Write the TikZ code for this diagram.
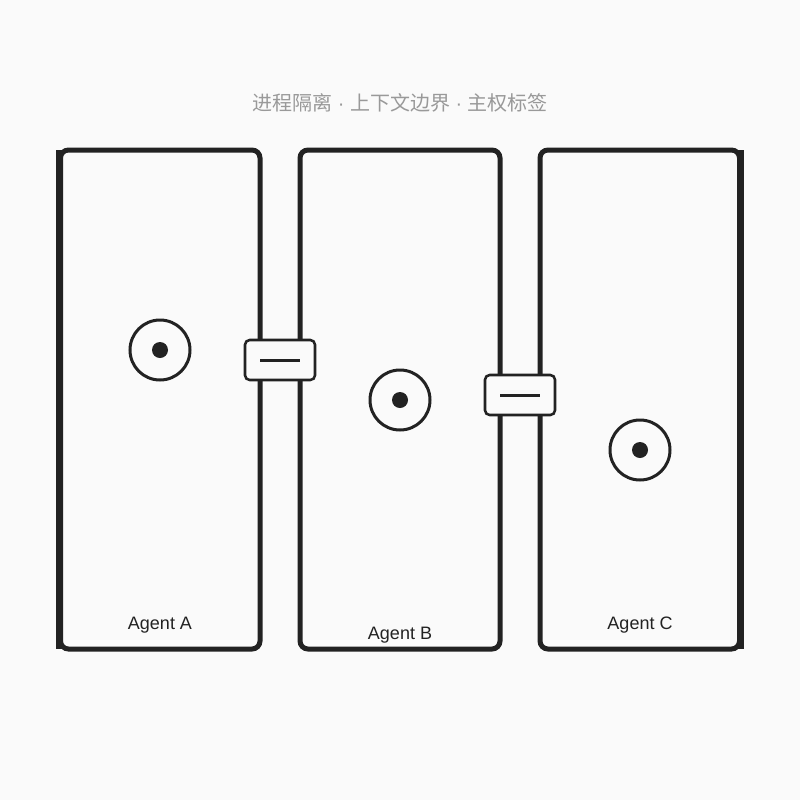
\documentclass[tikz,border=0pt]{standalone}
\usepackage{fontspec}
\setmainfont{Liberation Sans}
\newfontfamily\cjk{Noto Sans CJK SC}
\newfontfamily\latinsans{Liberation Sans}
\definecolor{ink}{HTML}{222222}
\definecolor{bg}{HTML}{FAFAFA}
\definecolor{titlegray}{HTML}{999999}
\newcommand{\tdot}{{\latinsans\ ·\ }}
\begin{document}
\begin{tikzpicture}[x=0.75pt,y=-0.75pt,
  agentbox/.style={draw=ink,line width=3.75pt,rounded corners=6pt,fill=bg},
  edgebar/.style={draw=ink,line width=4.5pt},
  portbox/.style={draw=ink,fill=bg,line width=1.9pt,rounded corners=3.5pt,minimum width=52.5pt,minimum height=30pt,inner sep=0pt},
  portline/.style={draw=ink,line width=2.25pt},
  ring/.style={circle,draw=ink,line width=2.25pt,minimum size=45pt,inner sep=0pt},
  dot/.style={circle,fill=ink,minimum size=12pt,inner sep=0pt},
  lbl/.style={text=ink,font=\fontsize{13.5pt}{16pt}\selectfont},
  ttl/.style={text=titlegray,font=\cjk\fontsize{15pt}{18pt}\selectfont}]
\fill[bg] (0,0) rectangle (800,800);
\useasboundingbox (0,0) rectangle (800,800);
\node[ttl] (title) at (400,103) {进程隔离\tdot 上下文边界\tdot 主权标签};
% boxes
\draw[agentbox] (60.5,150) rectangle (260,649);
\draw[agentbox] (300,150) rectangle (500,649);
\draw[agentbox] (540,150) rectangle (739.5,649);
\coordinate (la) at (59,150);
\coordinate (lb) at (59,649);
\coordinate (ra) at (740.5,150);
\coordinate (rb) at (740.5,649);
\draw[edgebar] (la) -- (lb);
\draw[edgebar] (ra) -- (rb);
% rings
\node[ring] (ra1) at (160,350) {};
\node[dot] (da1) at (160,350) {};
\node[ring] (rb1) at (400,400) {};
\node[dot] (db1) at (400,400) {};
\node[ring] (rc1) at (640,450) {};
\node[dot] (dc1) at (640,450) {};
% ports
\node[portbox] (p1) at (280,360) {};
\draw[portline] ([xshift=-15pt]p1.center) -- ([xshift=15pt]p1.center);
\node[portbox] (p2) at (520,395) {};
\draw[portline] ([xshift=-15pt]p2.center) -- ([xshift=15pt]p2.center);
% labels
\node[lbl] (labA) at (160,625) {Agent A};
\node[lbl] (labB) at (400,635) {Agent B};
\node[lbl] (labC) at (640,625) {Agent C};
\end{tikzpicture}
\end{document}
